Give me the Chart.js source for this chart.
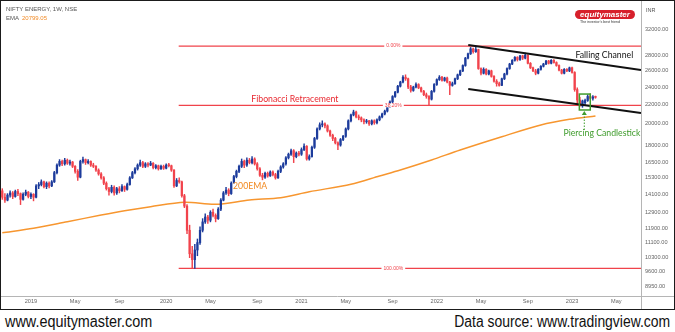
<!DOCTYPE html>
<html>
<head>
<meta charset="utf-8">
<script src="https://cdn.jsdelivr.net/npm/chart.js@4.4.1/dist/chart.umd.min.js"></script>
<style>
  body { margin: 0; background: #fff; width: 675px; height: 332px; overflow: hidden; position: relative; font-family: "Liberation Sans", Arial, sans-serif; }
  #frame { position: absolute; left: 0; top: 0; width: 673px; height: 308px; border: 1px solid #1b1b1b; }
  #frame canvas { position: absolute; left: 0; top: 0; }
  .tag { position: absolute; font-size: 6px; color: #555; white-space: nowrap; z-index: 2; }
  .tag b { font-weight: normal; color: #f28c28; margin-left: 3px; }
  #logo { position: absolute; left: 574px; top: 9px; width: 60px; height: 9px; border-radius: 5px; background: #d7202b; color: #fff; font: italic bold 8px "Liberation Sans", Arial, sans-serif; line-height: 9px; text-align: center; z-index: 2; }
  #slogan { position: absolute; left: 579px; top: 19px; font-size: 3.6px; color: #333; z-index: 2; white-space: nowrap; }
  .foot { position: absolute; top: 313px; font-size: 16px; color: #111; white-space: nowrap; }
  #site { left: 5px; transform: scaleX(0.9); transform-origin: left top; }
  #src { right: 5px; transform: scaleX(0.87); transform-origin: right top; }
</style>
</head>
<body>
<div id="frame">
  <canvas id="chart" width="673" height="308"></canvas>
  <div class="tag" style="left:5px;top:5px">NIFTY ENERGY, 1W, NSE</div>
  <div class="tag" style="left:5px;top:14px">EMA<b>20799.05</b></div>
  <div class="tag" style="left:645px;top:6px;font-size:5.5px">INR</div>
  <div id="logo">equitymaster</div>
  <div id="slogan">The investor's best friend</div>
</div>
<div class="foot" id="site">www.equitymaster.com</div>
<div class="foot" id="src">Data source: www.tradingview.com</div>

<script>
// Weekly candles of NIFTY ENERGY, first week 22 Oct 2018, rows are [open, high, low, close]
const candles = [
  [14350, 14500, 13750, 13900], [13900, 14150, 13550, 13700], [13700, 14150, 13650, 14050], [14050, 14350, 13900, 14200],
  [14200, 14300, 13800, 13950], [13950, 14400, 13900, 14300], [14300, 14450, 14000, 14150], [14150, 14200, 13400, 13750],
  [13750, 14200, 13700, 14100], [14100, 14400, 14000, 14250], [14250, 14300, 13850, 13950], [13950, 14200, 13800, 14100],
  [14100, 14150, 13650, 13900], [13900, 14800, 13850, 14700], [14700, 14950, 14500, 14800], [14800, 15150, 14700, 15000],
  [15000, 15050, 14550, 14650], [14650, 15000, 14500, 14900], [14900, 15000, 14550, 14700], [14700, 15100, 14650, 15000],
  [15000, 15800, 14950, 15700], [15700, 16400, 15600, 16300], [16300, 16750, 16200, 16600], [16600, 16700, 16250, 16400],
  [16400, 16850, 16300, 16700], [16700, 16800, 16350, 16450], [16450, 16700, 16300, 16550], [16550, 16600, 16100, 16200],
  [16200, 16250, 15650, 15800], [15800, 15950, 15100, 15350], [15350, 16700, 15300, 16600], [16600, 16950, 16450, 16750],
  [16750, 16800, 16350, 16500], [16500, 16750, 16400, 16600], [16600, 16650, 16200, 16300], [16300, 16450, 16100, 16200],
  [16200, 16250, 15800, 15900], [15900, 16000, 15500, 15600], [15600, 15700, 15200, 15300], [15300, 15400, 14800, 14900],
  [14900, 15000, 14400, 14500], [14500, 14600, 14050, 14300], [14300, 14750, 14200, 14600], [14600, 14700, 14050, 14200],
  [14200, 14600, 14100, 14500], [14500, 14650, 14200, 14350], [14350, 14800, 14300, 14650], [14650, 14700, 14300, 14450],
  [14450, 14900, 14400, 14800], [14800, 15400, 14750, 15300], [15300, 15800, 15250, 15700], [15700, 16100, 15600, 16000],
  [16000, 16400, 15900, 16300], [16300, 16700, 16200, 16500], [16500, 16600, 16100, 16200], [16200, 16500, 16100, 16400],
  [16400, 16500, 16150, 16300], [16300, 16600, 16250, 16450], [16450, 16500, 16000, 16100], [16100, 16350, 16000, 16250],
  [16250, 16300, 15900, 16000], [16000, 16300, 15950, 16200], [16200, 16300, 15950, 16050], [16050, 16400, 16000, 16300],
  [16300, 16450, 16150, 16250], [16250, 16300, 15800, 15900], [15900, 15950, 14600, 14700], [14700, 15250, 14650, 15100],
  [15100, 15300, 14900, 15000], [15000, 15050, 13900, 14000], [14000, 14100, 13200, 13300], [13300, 13400, 11600, 11800],
  [11800, 12100, 10300, 10500], [10500, 10900, 9770, 10200], [10200, 11000, 9770, 10700], [10700, 11300, 10400, 11100],
  [11100, 12000, 11000, 11800], [11800, 12500, 11700, 12300], [12300, 12800, 12200, 12600], [12600, 12700, 12200, 12400],
  [12400, 13000, 12300, 12900], [12900, 13100, 12600, 12700], [12700, 12800, 12300, 12500], [12500, 13200, 12450, 13100],
  [13100, 13800, 13000, 13700], [13700, 14300, 13650, 14200], [14200, 14600, 14100, 14400], [14400, 14500, 14000, 14150],
  [14150, 15000, 14100, 14900], [14950, 15500, 14900, 15400], [15400, 15900, 15300, 15800], [15800, 16300, 15700, 16200],
  [16200, 16800, 16100, 16600], [16600, 16700, 16100, 16300], [16300, 16900, 16200, 16700], [16700, 16850, 16400, 16500],
  [16500, 17000, 16400, 16800], [16800, 16900, 16300, 16400], [16400, 16500, 15900, 16000], [16000, 16100, 15400, 15500],
  [15500, 15650, 15150, 15350], [15350, 15750, 15250, 15650], [15650, 15750, 15350, 15450], [15450, 15850, 15400, 15750],
  [15750, 15850, 15450, 15550], [15550, 15650, 15200, 15300], [15300, 15900, 15250, 15800], [15800, 16250, 15700, 16150],
  [16150, 16500, 16050, 16400], [16400, 17000, 16300, 16900], [16900, 17300, 16800, 17200], [17200, 17650, 17100, 17500],
  [17500, 17600, 16500, 17000], [17000, 17400, 16900, 17300], [17300, 17450, 17050, 17200], [17200, 17750, 17100, 17600],
  [17600, 18100, 17500, 17900], [17900, 17950, 16700, 16800], [16800, 17150, 16700, 17000], [17000, 17900, 16950, 17800],
  [17800, 18700, 17700, 18600], [18600, 19600, 18500, 19500], [19500, 20100, 19400, 19900], [19900, 20300, 19700, 20000],
  [20000, 20100, 19600, 19800], [19800, 19900, 19200, 19300], [19300, 19400, 18800, 18900], [18900, 19000, 18400, 18600],
  [18600, 18700, 18100, 18200], [18200, 18300, 17600, 18000], [18000, 18600, 17900, 18500], [18500, 18900, 18400, 18800],
  [18800, 19600, 18700, 19500], [19500, 20400, 19400, 20300], [20300, 21000, 20200, 20900], [20900, 21400, 20800, 21200],
  [21200, 21300, 20600, 20700], [20700, 20900, 20400, 20600], [20600, 20700, 20200, 20400], [20400, 20500, 20000, 20200],
  [20200, 20450, 20050, 20300], [20300, 20350, 19850, 20000], [20000, 20400, 19900, 20300], [20300, 20400, 19950, 20100],
  [20100, 20500, 20000, 20400], [20400, 20800, 20300, 20700], [20700, 21100, 20600, 21000], [21000, 21400, 20900, 21300],
  [21300, 21900, 21200, 21800], [21800, 22400, 21700, 22300], [22300, 23000, 22200, 22900], [22900, 23500, 22800, 23400],
  [23400, 24200, 23300, 24100], [24100, 24700, 24000, 24600], [24600, 25400, 24500, 25200], [25200, 25500, 24800, 25000],
  [25000, 25100, 23800, 24000], [24000, 24200, 23400, 23600], [23600, 24100, 23500, 24000], [24000, 24500, 23900, 24300],
  [24300, 24400, 23800, 23900], [23900, 24000, 23400, 23500], [23500, 23600, 23000, 23100], [23100, 23300, 22700, 22900],
  [22900, 23000, 21950, 22600], [22600, 23600, 22500, 23500], [23500, 24400, 23400, 24300], [24300, 25000, 24200, 24900],
  [24900, 25400, 24800, 25200], [25200, 25300, 24700, 24800], [24800, 25200, 24700, 25100], [25100, 25200, 24500, 24600],
  [24600, 24700, 23100, 24200], [24200, 24600, 24100, 24400], [24400, 25100, 24300, 25000], [25000, 25600, 24900, 25500],
  [25500, 26100, 25400, 26000], [26000, 26800, 25900, 26700], [26700, 27800, 26600, 27700], [27700, 28400, 27600, 28300],
  [28300, 29200, 28200, 29000], [29000, 29100, 28400, 28600], [28600, 29400, 28500, 28900], [28900, 28950, 26200, 26300],
  [26300, 26400, 25500, 25700], [25700, 26400, 25600, 26200], [26200, 26300, 25500, 25600], [25600, 26100, 25500, 26000],
  [26000, 26100, 25200, 25300], [25300, 25400, 24600, 24700], [24700, 24900, 24100, 24400], [24400, 24600, 24100, 24200],
  [24200, 25100, 24150, 25000], [25000, 25700, 24900, 25600], [25600, 26400, 25500, 26300], [26300, 27000, 26200, 26900],
  [26900, 27500, 26800, 27400], [27400, 27900, 27300, 27800], [27800, 27900, 27300, 27500], [27500, 28100, 27400, 28000],
  [28000, 28100, 27500, 27700], [27700, 28400, 27600, 28100], [28100, 28150, 26900, 27000], [27000, 27100, 26300, 26400],
  [26400, 26500, 25900, 26000], [26000, 26200, 25500, 25700], [25700, 26300, 25600, 26200], [26200, 26700, 26100, 26600],
  [26600, 27000, 26500, 26900], [26900, 27400, 26800, 27300], [27300, 27400, 26900, 27000], [27000, 27500, 26900, 27400],
  [27400, 27500, 27000, 27100], [27100, 27200, 26600, 26700], [26700, 26800, 26000, 26100], [26100, 26200, 25600, 25700],
  [25700, 26300, 25600, 26200], [26200, 26300, 25900, 26000], [26000, 26500, 25900, 26400], [26400, 26500, 25700, 25800],
  [25800, 25900, 23500, 23700], [23700, 23900, 22100, 22500], [22500, 22800, 21800, 22000], [21850, 22500, 21700, 22400],
  [22200, 22600, 21950, 22450], [22450, 23100, 22350, 22900], [22900, 23200, 22600, 22700], [22700, 23000, 22500, 22850],
  [22850, 22950, 22700, 22800]
];

// 200 week EMA, read at selected weeks
const emaWeeks = [0, 12, 25, 38, 47, 57, 70, 82, 95, 107, 118, 134, 145, 153, 165, 176, 192, 207, 218, 228];
const emaValues = [11655, 11914, 12310, 12723, 12998, 13260, 13553, 13418, 13708, 13866, 14284, 14816, 15440, 15905, 16715, 17565, 18762, 19882, 20452, 20799];

// Fibonacci retracement drawn from the March 2020 low to the April 2022 high
const fibLevels = [29400, 21920, 9770];
const fibLabels = ['0.00%', '38.20%', '100.00%'];
const fibFromWeek = 67.8;

// Falling channel, two points per line
const channelWeeks = [179.1, 245.5];
const channelUpper = [29560, 26115];
const channelLower = [23770, 21100];

const priceTicks = [32000, 28000, 26000, 24000, 22000, 20000, 18000, 16500, 15300, 14100, 12900, 11900, 11100, 10300, 9600, 8950];
const timeTickWeeks = [11, 28, 45, 63, 80, 98, 115, 132, 150, 167, 184, 202, 219, 236];
const timeTickLabels = ['2019', 'May', 'Sep', '2020', 'May', 'Sep', '2021', 'May', 'Sep', '2022', 'May', 'Sep', '2023', 'May'];

const UP = '#1d3c9c';
const DOWN = '#f1434c';
const FIB = '#f0434b';
const LAST_WEEK = 245.5;

const candleColor = ctx => {
  const c = candles[ctx.dataIndex];
  return c && c[3] >= c[0] ? UP : DOWN;
};

const notes = {
  id: 'notes',
  afterDatasetsDraw(chart, args, opts) {
    const { ctx, chartArea, scales: { x, y } } = chart;
    ctx.save();

    // axis separators
    ctx.strokeStyle = '#b5b5b5';
    ctx.lineWidth = 1;
    ctx.beginPath();
    ctx.moveTo(0, chartArea.bottom + 0.5);
    ctx.lineTo(chart.width, chartArea.bottom + 0.5);
    ctx.moveTo(chartArea.right + 0.5, 0);
    ctx.lineTo(chartArea.right + 0.5, chart.height);
    ctx.stroke();

    // fib level tags sitting on the lines
    ctx.font = '5px "Liberation Sans", Arial, sans-serif';
    ctx.textAlign = 'center';
    ctx.textBaseline = 'middle';
    fibLevels.forEach((lvl, i) => {
      const px = x.getPixelForValue(opts.fibTagWeek);
      const py = y.getPixelForValue(lvl);
      const w = ctx.measureText(fibLabels[i]).width + 4;
      ctx.fillStyle = '#fff';
      ctx.fillRect(px - w / 2, py - 2, w, 4);
      ctx.fillStyle = FIB;
      ctx.fillText(fibLabels[i], px, py);
    });

    // captions, slightly condensed
    ctx.textAlign = 'left';
    opts.captions.forEach(n => {
      ctx.save();
      ctx.translate(x.getPixelForValue(n.week), y.getPixelForValue(n.price));
      ctx.scale(0.87, 1);
      ctx.font = n.font;
      ctx.fillStyle = n.color;
      ctx.fillText(n.text, 0, 0);
      ctx.restore();
    });

    // box around the piercing pattern and the arrow under it
    const b = opts.box;
    const bx0 = x.getPixelForValue(b.weeks[0]), bx1 = x.getPixelForValue(b.weeks[1]);
    const by0 = y.getPixelForValue(b.prices[0]), by1 = y.getPixelForValue(b.prices[1]);
    ctx.strokeStyle = '#3f9c2c';
    ctx.lineWidth = 1.5;
    ctx.strokeRect(bx0, by0, bx1 - bx0, by1 - by0);

    const ax = x.getPixelForValue(b.arrowWeek);
    const aTop = y.getPixelForValue(b.arrowPrices[0]);
    const aBot = y.getPixelForValue(b.arrowPrices[1]);
    ctx.lineWidth = 1;
    ctx.setLineDash([1.5, 1.5]);
    ctx.beginPath();
    ctx.moveTo(ax, aBot);
    ctx.lineTo(ax, aTop + 3);
    ctx.stroke();
    ctx.setLineDash([]);
    ctx.fillStyle = '#3f9c2c';
    ctx.beginPath();
    ctx.moveTo(ax, aTop);
    ctx.lineTo(ax - 2.5, aTop + 4);
    ctx.lineTo(ax + 2.5, aTop + 4);
    ctx.closePath();
    ctx.fill();

    ctx.restore();
  }
};

const captionFont = '10px Lato, "Open Sans", sans-serif';

new Chart(document.getElementById('chart'), {
  type: 'bar',
  data: {
    datasets: [
      ...fibLevels.map(lvl => ({
        type: 'line',
        data: [{ x: fibFromWeek, y: lvl }, { x: LAST_WEEK, y: lvl }],
        borderColor: FIB,
        borderWidth: 1.2,
        pointRadius: 0,
        order: 6
      })),
      {
        type: 'line',
        data: emaWeeks.map((w, i) => ({ x: w, y: emaValues[i] })),
        borderColor: '#f7962f',
        borderWidth: 1.5,
        pointRadius: 0,
        tension: 0.3,
        order: 5
      },
      {
        data: candles.map((c, i) => ({ x: i, y: [c[2], c[1]] })),
        backgroundColor: candleColor,
        barThickness: 0.8,
        grouped: false,
        order: 3
      },
      {
        data: candles.map((c, i) => ({ x: i, y: [c[0], c[3]] })),
        backgroundColor: candleColor,
        barThickness: 1.6,
        minBarLength: 1,
        grouped: false,
        order: 2
      },
      ...[channelUpper, channelLower].map(line => ({
        type: 'line',
        data: channelWeeks.map((w, i) => ({ x: w, y: line[i] })),
        borderColor: '#111',
        borderWidth: 2,
        pointRadius: 0,
        order: 0
      }))
    ]
  },
  options: {
    responsive: false,
    maintainAspectRatio: false,
    devicePixelRatio: 1,
    animation: false,
    events: [],
    layout: { padding: 0 },
    plugins: {
      legend: { display: false },
      tooltip: { enabled: false },
      notes: {
        fibTagWeek: 150.3,
        captions: [
          { text: 'Falling Channel', week: 220.3, price: 28130, color: '#111', font: captionFont },
          { text: 'Fibonacci Retracement', week: 95.7, price: 22620, color: '#e8262e', font: captionFont },
          { text: '200EMA', week: 88.7, price: 14690, color: '#f28a22', font: captionFont },
          { text: 'Piercing Candlestick', week: 215.7, price: 19110, color: '#3f9c2c', font: captionFont }
        ],
        box: { weeks: [221.8, 226.0], prices: [23180, 21420], arrowWeek: 223.7, arrowPrices: [21310, 19395] }
      }
    },
    scales: {
      x: {
        type: 'linear',
        offset: false,
        min: -0.5,
        max: LAST_WEEK,
        grid: { display: false, drawTicks: false },
        border: { display: false },
        afterBuildTicks: s => { s.ticks = timeTickWeeks.map(v => ({ value: v })); },
        afterFit: s => { s.height = 13; s.paddingLeft = 0; s.paddingRight = 0; },
        ticks: {
          autoSkip: false,
          maxRotation: 0,
          padding: 2,
          color: '#666',
          font: { size: 5.6, family: '"Liberation Sans", Arial, sans-serif' },
          callback: v => timeTickLabels[timeTickWeeks.indexOf(v)]
        }
      },
      y: {
        type: 'logarithmic',
        position: 'right',
        min: 8518,
        max: 36765,
        grid: { display: false, drawTicks: false },
        border: { display: false },
        afterBuildTicks: s => { s.ticks = priceTicks.map(v => ({ value: v })); },
        afterFit: s => { s.width = 33; s.paddingTop = 0; s.paddingBottom = 0; },
        ticks: {
          autoSkip: false,
          padding: 4,
          color: '#666',
          font: { size: 5.6, family: '"Liberation Sans", Arial, sans-serif' },
          callback: v => Number(v).toFixed(2)
        }
      }
    }
  },
  plugins: [notes]
});
</script>
</body>
</html>
